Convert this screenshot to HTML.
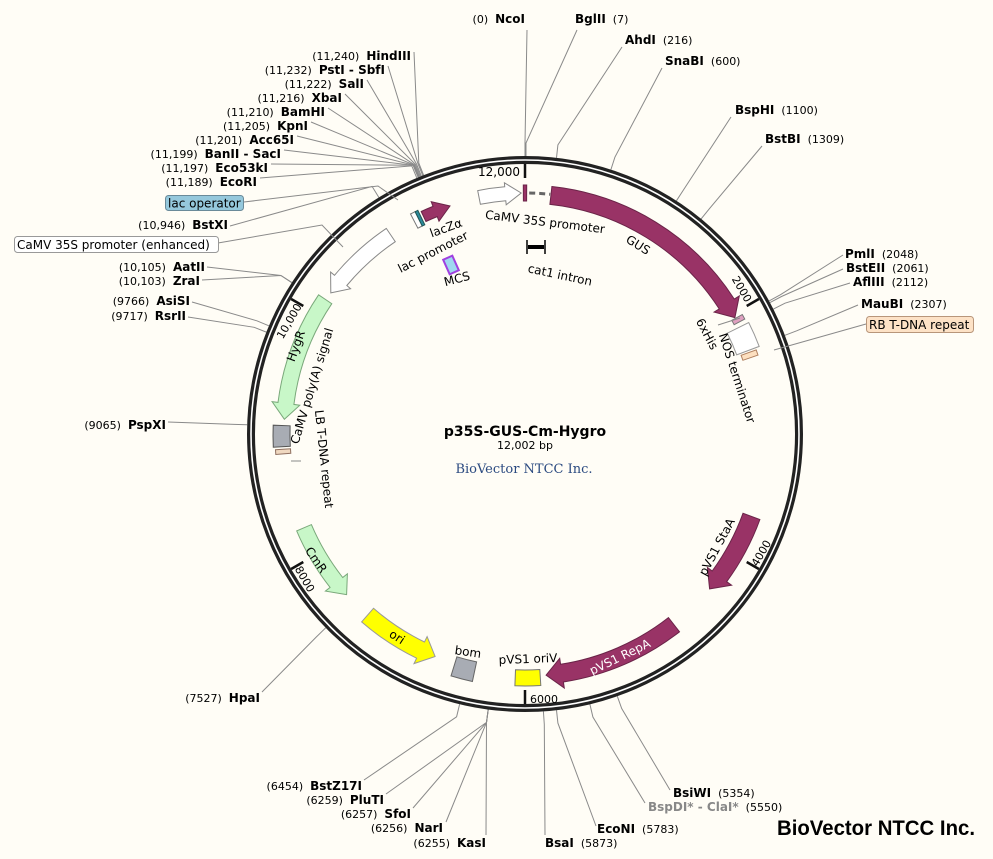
<!DOCTYPE html>
<html><head><meta charset="utf-8"><style>
html,body{margin:0;padding:0;background:#fffdf6;}
svg{display:block;}
text{font-family:"DejaVu Sans","Liberation Sans",sans-serif;font-size:11px;fill:#000;white-space:pre;}
.b{font-weight:bold;font-size:12px;}
.fl{font-size:12px;}
</style></head><body>
<svg id="s" width="993" height="859" viewBox="0 0 993 859" xmlns="http://www.w3.org/2000/svg" xml:space="preserve">
<rect width="993" height="859" fill="#fffdf6"/>
<g id="lines" stroke="#8a8a8a" stroke-width="1" fill="none"></g>
<g id="ring"></g>
<g id="feat"></g>

<g stroke="#8a8a8a" stroke-width="1" fill="none">
<polyline points="218,243 322,225 343,247"/>
<polyline points="244,202 378,186 398,200"/>
<polyline points="774,350 866,324"/>
<line x1="718" y1="325" x2="740" y2="318"/>
<line x1="301" y1="461" x2="291" y2="461"/>
</g>

<rect x="14.5" y="236.5" width="204" height="16" rx="3" fill="#fff" stroke="#999"/>
<text x="17" y="249" class="fl">CaMV 35S promoter (enhanced)</text>
<rect x="165.5" y="195.5" width="78" height="15" rx="3" fill="#95c8dc" stroke="#6a8a99"/>
<text x="168" y="207.5" class="fl">lac operator</text>
<rect x="866.5" y="316.5" width="107" height="16" rx="3" fill="#fde2c6" stroke="#b8967a"/>
<text x="869" y="329" class="fl">RB T-DNA repeat</text>

<g text-anchor="end">
<text x="525" y="23">(0)  <tspan class="b">NcoI</tspan></text>
<text x="411" y="60">(11,240)  <tspan class="b">HindIII</tspan></text>
<text x="385" y="74">(11,232)  <tspan class="b">PstI - SbfI</tspan></text>
<text x="364" y="88">(11,222)  <tspan class="b">SalI</tspan></text>
<text x="342" y="102">(11,216)  <tspan class="b">XbaI</tspan></text>
<text x="325" y="116">(11,210)  <tspan class="b">BamHI</tspan></text>
<text x="308" y="130">(11,205)  <tspan class="b">KpnI</tspan></text>
<text x="294" y="144">(11,201)  <tspan class="b">Acc65I</tspan></text>
<text x="281" y="158">(11,199)  <tspan class="b">BanII - SacI</tspan></text>
<text x="268" y="172">(11,197)  <tspan class="b">Eco53kI</tspan></text>
<text x="257" y="186">(11,189)  <tspan class="b">EcoRI</tspan></text>
<text x="228" y="229">(10,946)  <tspan class="b">BstXI</tspan></text>
<text x="205" y="271">(10,105)  <tspan class="b">AatII</tspan></text>
<text x="200" y="285">(10,103)  <tspan class="b">ZraI</tspan></text>
<text x="190" y="305">(9766)  <tspan class="b">AsiSI</tspan></text>
<text x="186" y="320">(9717)  <tspan class="b">RsrII</tspan></text>
<text x="166" y="429">(9065)  <tspan class="b">PspXI</tspan></text>
<text x="260" y="702">(7527)  <tspan class="b">HpaI</tspan></text>
<text x="362" y="790">(6454)  <tspan class="b">BstZ17I</tspan></text>
<text x="384" y="804">(6259)  <tspan class="b">PluTI</tspan></text>
<text x="411" y="818">(6257)  <tspan class="b">SfoI</tspan></text>
<text x="443" y="832">(6256)  <tspan class="b">NarI</tspan></text>
<text x="486" y="847">(6255)  <tspan class="b">KasI</tspan></text>
</g>
<g>
<text x="575" y="23"><tspan class="b">BglII</tspan>  (7)</text>
<text x="625" y="44"><tspan class="b">AhdI</tspan>  (216)</text>
<text x="665" y="65"><tspan class="b">SnaBI</tspan>  (600)</text>
<text x="735" y="114"><tspan class="b">BspHI</tspan>  (1100)</text>
<text x="765" y="143"><tspan class="b">BstBI</tspan>  (1309)</text>
<text x="845" y="258"><tspan class="b">PmlI</tspan>  (2048)</text>
<text x="846" y="272"><tspan class="b">BstEII</tspan>  (2061)</text>
<text x="853" y="286"><tspan class="b">AflIII</tspan>  (2112)</text>
<text x="861" y="308"><tspan class="b">MauBI</tspan>  (2307)</text>
<text x="673" y="797"><tspan class="b">BsiWI</tspan>  (5354)</text>
<text x="648" y="811"><tspan class="b" fill="#888">BspDI* - ClaI*</tspan>  (5550)</text>
<text x="597" y="833"><tspan class="b">EcoNI</tspan>  (5783)</text>
<text x="545" y="847"><tspan class="b">BsaI</tspan>  (5873)</text>
</g>

<text x="520" y="176" text-anchor="end" class="fl">12,000</text>
<text transform="translate(742,289) rotate(60)" text-anchor="middle" y="4">2000</text>
<text transform="translate(761,553) rotate(-60)" text-anchor="middle" y="4">4000</text>
<text x="530" y="703">6000</text>
<text transform="translate(305,579) rotate(60)" text-anchor="middle" y="4">8000</text>
<text transform="translate(289,321) rotate(-60)" text-anchor="middle" y="4">10,000</text>

<g class="fl" text-anchor="middle" font-size="12">
<text transform="translate(545,222) rotate(7)" y="4" class="fl">CaMV 35S promoter</text>
<text transform="translate(638,245) rotate(32)" y="4" class="fl">GUS</text>
<text transform="translate(446,228) rotate(-20)" y="4" class="fl">lacZα</text>
<text transform="translate(433,252) rotate(-27)" y="4" class="fl">lac promoter</text>
<text transform="translate(457,279) rotate(-15)" y="4" class="fl">MCS</text>
<text transform="translate(560,275) rotate(12)" y="4" class="fl">cat1 intron</text>
<text transform="translate(707,334) rotate(62)" y="4" class="fl">6xHis</text>
<text transform="translate(737,378) rotate(72)" y="4" class="fl">NOS terminator</text>
<text transform="translate(717,547) rotate(-62)" y="4" class="fl">pVS1 StaA</text>
<text transform="translate(620,657) rotate(-26)" y="4" class="fl" style="fill:#fff">pVS1 RepA</text>
<text transform="translate(528,659) rotate(-2)" y="4" class="fl">pVS1 oriV</text>
<text transform="translate(468,652) rotate(8)" y="4" class="fl">bom</text>
<text transform="translate(397,637) rotate(33)" y="4" class="fl">ori</text>
<text transform="translate(316,560) rotate(55)" y="4" class="fl">CmR</text>
<text transform="translate(296,346) rotate(-70)" y="4" class="fl">HygR</text>
<text transform="translate(312,386) rotate(-73)" y="4" class="fl">CaMV poly(A) signal</text>
<text transform="translate(324,459) rotate(84)" y="4" class="fl">LB T-DNA repeat</text>
</g>

<g stroke="#000">
<line x1="528" y1="247" x2="544" y2="247" stroke-width="4"/>
<line x1="527" y1="240" x2="527" y2="254" stroke-width="1.5"/>
<line x1="545" y1="240" x2="545" y2="254" stroke-width="1.5"/>
</g>
<g transform="translate(451,265) rotate(-24)">
<rect x="-5" y="-8" width="10" height="16" fill="#9fd8f0" stroke="#a040e0" stroke-width="2"/>
</g>

<text x="525" y="436" text-anchor="middle" style="font-weight:bold;font-size:14px">p35S-GUS-Cm-Hygro</text>
<text x="525" y="449" text-anchor="middle">12,002 bp</text>
<text x="524" y="473" text-anchor="middle" style="font-family:'DejaVu Serif','Liberation Serif',serif;font-size:13px;fill:#2b4a80">BioVector NTCC Inc.</text>
<text x="777" y="835" textLength="198" lengthAdjust="spacingAndGlyphs" style="font-family:'Liberation Sans',sans-serif;font-weight:bold;font-size:21px">BioVector NTCC Inc.</text>
</svg>
<script>
(function(){
var NS="http://www.w3.org/2000/svg",cx=525,cy=434;
function P(a,r){var t=a*Math.PI/180;return [cx+r*Math.sin(t),cy-r*Math.cos(t)];}
function f(p){return p[0].toFixed(1)+","+p[1].toFixed(1);}
function el(g,tag,at){var e=document.createElementNS(NS,tag);for(var k in at)e.setAttribute(k,at[k]);document.getElementById(g).appendChild(e);return e;}
el("ring","circle",{cx:cx,cy:cy,r:274,fill:"none",stroke:"#222","stroke-width":8});
el("ring","circle",{cx:cx,cy:cy,r:274,fill:"none",stroke:"#fff","stroke-width":1.6});
[0,60,120,180,240,300].forEach(function(a){var p1=P(a,270),p2=P(a,256);
 el("ring","line",{x1:p1[0],y1:p1[1],x2:p2[0],y2:p2[1],stroke:"#111","stroke-width":2.5});});
var S=[[0,527,30],[0.2,577,30],[6.5,622,47],[18,662,68],[33,731,117],[39.3,762,146],
[61.4,843,255],[61.8,843,269],[63.3,850,283],[69.2,858,305],
[160.6,670,790],[166.5,645,803],[173.5,596,826],[176.2,545,835],
[187.6,486,835],[187.6,446,822],[187.6,413,808],[187.6,386,794],[193.6,364,780],
[225.8,262,692],[271.9,168,422],[291.5,188,317],[292.9,192,302],[303,202,280],[303,207,267],[328.3,230,226],
[338.6,414,52],[338.4,388,66],[338.1,367,80],[337.9,345,94],[337.7,328,108],[337.6,311,122],[337.5,297,136],[337.4,284,150],[337.4,271,164],[337.1,260,178]];
S.forEach(function(s){var a=P(s[0],278),b=P(s[0],291);
 el("lines","polyline",{points:f(a)+" "+f(b)+" "+s[1]+","+s[2]});});
function arcRect(a1,a2,r1,r2,fill,stroke){
 var d="M"+f(P(a1,r2))+" A"+r2+","+r2+" 0 0 1 "+f(P(a2,r2))+" L"+f(P(a2,r1))+" A"+r1+","+r1+" 0 0 0 "+f(P(a1,r1))+" Z";
 el("feat","path",{d:d,fill:fill,stroke:stroke,"stroke-width":1});}
function arrow(a1,a2,r,w,hw,dir,fill,stroke){
 var h=3.8,o=r+w/2,i=r-w/2,d,lg=0;
 if(dir>0){var m=a2-h;
  d="M"+f(P(a1,o))+" A"+o+","+o+" 0 "+lg+" 1 "+f(P(m,o))+" L"+f(P(m,o+hw))+" L"+f(P(a2,r))+" L"+f(P(m,i-hw))+" L"+f(P(m,i))+" A"+i+","+i+" 0 "+lg+" 0 "+f(P(a1,i))+" Z";}
 else{var m=a1+h;
  d="M"+f(P(a1,r))+" L"+f(P(m,o+hw))+" L"+f(P(m,o))+" A"+o+","+o+" 0 "+lg+" 1 "+f(P(a2,o))+" L"+f(P(a2,i))+" A"+i+","+i+" 0 "+lg+" 0 "+f(P(m,i))+" L"+f(P(m,i-hw))+" Z";}
 el("feat","path",{d:d,fill:fill,stroke:stroke,"stroke-width":1});}
var MA="#993366",MS="#6a2448",GR="#c8f7c8",GS="#7aa87a";
el("feat","path",{d:"M"+f(P(1,241))+" A241,241 0 0 1 "+f(P(6,241)),fill:"none",stroke:"#666","stroke-width":3,"stroke-dasharray":"6,4"});
arrow(6.2,61,240,18,6,1,MA,MS);
arrow(-11,-0.9,241,14,4,1,"#fff","#888");
arcRect(-0.4,0.4,233,249,MA,MS);
arrow(-25,-18.2,240,11,5,1,MA,MS);
arcRect(-27.5,-26.3,232,248,"#fff","#777");
arcRect(-26.3,-25.6,232,248,"#2a8a9a","#255");
arrow(306,326,240,16,5,-1,"#fff","#888");
arrow(273.5,304,241,16,6,-1,GR,GS);
arrow(228,247,240,16,6,-1,GR,GS);
arrow(202,221,240,18,6,-1,"#ffff00","#999");
arrow(142,175,242,18,6,1,MA,MS);
arrow(110,130,241,18,6,1,MA,MS);
arcRect(61.2,62.4,236,248,"#e0a0c0","#777");
arcRect(63.5,69.5,226,250,"#fff","#999");
arcRect(70,71.3,230,246,"#fde0c0","#b08060");
arcRect(176.4,182.3,236,252,"#ffff00","#777");
arcRect(192,197,233,253,"#a8acb4","#666");
arcRect(267,272,235,252,"#a8acb4","#555");
arcRect(265.3,266.4,235,250,"#f0d8c0","#907060");
})();
</script>
</body></html>
